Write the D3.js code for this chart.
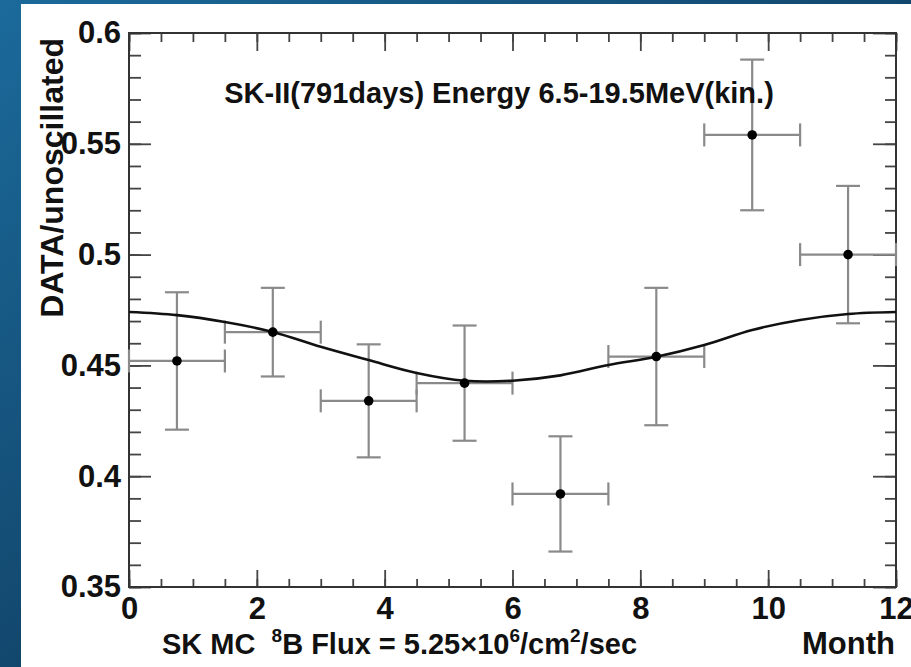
<!DOCTYPE html>
<html>
<head>
<meta charset="utf-8">
<script src="https://cdn.jsdelivr.net/npm/d3@7"></script>
<style>
  html, body { margin: 0; padding: 0; overflow: hidden; }
  svg { display: block; }
  text { font-family: "Liberation Sans", Arial, Helvetica, sans-serif; font-weight: bold; fill: #111; }
</style>
</head>
<body>
<div id="chart"></div>
<script>
// bins (month centres) and half widths
const months = [0.75, 2.25, 3.75, 5.25, 6.75, 8.25, 9.75, 11.25];
const monthHalfWidth = [0.75, 0.75, 0.75, 0.75, 0.75, 0.75, 0.75, 0.75];
// DATA / unoscillated ratio and its error
const ratio = [0.452, 0.465, 0.434, 0.442, 0.392, 0.454, 0.554, 0.500];
const ratioErr = [0.031, 0.020, 0.0255, 0.026, 0.026, 0.031, 0.034, 0.031];

// expected seasonal curve
const curveMonths = [0, 0.75, 1.5, 2.25, 3, 3.75, 4.5, 5.25, 6, 6.75, 7.5, 8.25, 9, 9.75, 10.5, 11.25, 12];
const curveRatio = [0.4741, 0.4727, 0.4696, 0.4651, 0.4584, 0.4524, 0.4466, 0.4431, 0.4431, 0.4455, 0.4502, 0.4539, 0.4592, 0.4660, 0.4705, 0.4732, 0.4741];

const xTicks = [0, 2, 4, 6, 8, 10, 12];
const yTicks = [0.35, 0.4, 0.45, 0.5, 0.55, 0.6];

const width = 911, height = 667;
const plot = { left: 129, right: 896, top: 33, bottom: 587 };

const svg = d3.select("#chart").append("svg")
  .attr("width", width)
  .attr("height", height);

// slide background
const grad = svg.append("defs").append("linearGradient")
  .attr("id", "bg")
  .attr("x1", 0).attr("y1", 0).attr("x2", 1).attr("y2", 1);
grad.append("stop").attr("offset", 0).attr("stop-color", "#1b6a9b");
grad.append("stop").attr("offset", 1).attr("stop-color", "#0a2540");

svg.append("rect").attr("width", width).attr("height", height).attr("fill", "url(#bg)");
svg.append("rect")
  .attr("x", 21).attr("y", 4)
  .attr("width", width - 21).attr("height", height - 4)
  .attr("fill", "#fff");

const x = d3.scaleLinear().domain([0, 12]).range([plot.left, plot.right]);
const y = d3.scaleLinear().domain([0.35, 0.6]).range([plot.bottom, plot.top]);

// axes: ticks point inwards, mirrored on top and right
function styleAxis(g) {
  g.select(".domain").remove();
  g.selectAll(".tick line").attr("stroke", "#444").attr("stroke-width", 1.8);
  g.selectAll("text").style("font-size", "31px").style("fill", "#111");
}

svg.append("g")
  .attr("transform", `translate(0,${plot.bottom})`)
  .call(d3.axisBottom(x).tickValues(x.ticks(24)).tickSize(-8).tickFormat(""))
  .call(styleAxis);
svg.append("g")
  .attr("transform", `translate(0,${plot.bottom})`)
  .call(d3.axisBottom(x).tickValues(xTicks).tickSize(-17).tickPadding(10).tickFormat(d3.format("d")))
  .call(styleAxis);
svg.append("g")
  .attr("transform", `translate(0,${plot.top})`)
  .call(d3.axisTop(x).tickValues(x.ticks(24)).tickSize(-9).tickFormat(""))
  .call(styleAxis);
svg.append("g")
  .attr("transform", `translate(0,${plot.top})`)
  .call(d3.axisTop(x).tickValues(xTicks).tickSize(-18).tickFormat(""))
  .call(styleAxis);

svg.append("g")
  .attr("transform", `translate(${plot.left},0)`)
  .call(d3.axisLeft(y).tickValues(y.ticks(25)).tickSize(-12).tickFormat(""))
  .call(styleAxis);
svg.append("g")
  .attr("transform", `translate(${plot.left},0)`)
  .call(d3.axisLeft(y).tickValues(yTicks).tickSize(-22).tickPadding(8).tickFormat(d3.format("~g")))
  .call(styleAxis);
svg.append("g")
  .attr("transform", `translate(${plot.right},0)`)
  .call(d3.axisRight(y).tickValues(y.ticks(25)).tickSize(-11).tickFormat(""))
  .call(styleAxis);
svg.append("g")
  .attr("transform", `translate(${plot.right},0)`)
  .call(d3.axisRight(y).tickValues(yTicks).tickSize(-23).tickFormat(""))
  .call(styleAxis);

// frame
svg.append("rect")
  .attr("x", plot.left).attr("y", plot.top)
  .attr("width", plot.right - plot.left).attr("height", plot.bottom - plot.top)
  .attr("fill", "none").attr("stroke", "#333").attr("stroke-width", 2);

// error bars
const pts = months.map((m, i) => ({ m, hw: monthHalfWidth[i], v: ratio[i], e: ratioErr[i] }));
const bars = svg.append("g").attr("stroke", "#8a8a8a").attr("stroke-width", 2.2).attr("fill", "none");
const capH = 11.5;

bars.selectAll(".xerr").data(pts).enter().append("line")
  .attr("x1", d => x(d.m - d.hw)).attr("x2", d => x(d.m + d.hw))
  .attr("y1", d => y(d.v)).attr("y2", d => y(d.v));
bars.selectAll(".xcapl").data(pts).enter().append("line")
  .attr("x1", d => x(d.m - d.hw)).attr("x2", d => x(d.m - d.hw))
  .attr("y1", d => y(d.v) - capH).attr("y2", d => y(d.v) + capH);
bars.selectAll(".xcapr").data(pts).enter().append("line")
  .attr("x1", d => x(d.m + d.hw)).attr("x2", d => x(d.m + d.hw))
  .attr("y1", d => y(d.v) - capH).attr("y2", d => y(d.v) + capH);
bars.selectAll(".yerr").data(pts).enter().append("line")
  .attr("x1", d => x(d.m)).attr("x2", d => x(d.m))
  .attr("y1", d => y(d.v + d.e)).attr("y2", d => y(d.v - d.e));
bars.selectAll(".ycapt").data(pts).enter().append("line")
  .attr("x1", d => x(d.m) - 12).attr("x2", d => x(d.m) + 12)
  .attr("y1", d => y(d.v + d.e)).attr("y2", d => y(d.v + d.e));
bars.selectAll(".ycapb").data(pts).enter().append("line")
  .attr("x1", d => x(d.m) - 12).attr("x2", d => x(d.m) + 12)
  .attr("y1", d => y(d.v - d.e)).attr("y2", d => y(d.v - d.e));

// expected curve
const line = d3.line()
  .x((d, i) => x(curveMonths[i]))
  .y(d => y(d))
  .curve(d3.curveCatmullRom);
svg.append("path")
  .datum(curveRatio)
  .attr("d", line)
  .attr("fill", "none")
  .attr("stroke", "#111")
  .attr("stroke-width", 2.6);

// points
svg.append("g").selectAll("circle").data(pts).enter().append("circle")
  .attr("cx", d => x(d.m)).attr("cy", d => y(d.v))
  .attr("r", 4.8).attr("fill", "#000");

// texts
svg.append("text")
  .attr("x", 499).attr("y", 103)
  .attr("text-anchor", "middle")
  .style("font-size", "29px")
  .text("SK-II(791days) Energy 6.5-19.5MeV(kin.)");

svg.append("text")
  .attr("transform", "translate(63,38) rotate(-90)")
  .attr("text-anchor", "end")
  .style("font-size", "32px")
  .text("DATA/unoscillated");

const xt = svg.append("text")
  .attr("x", 162).attr("y", 654)
  .style("font-size", "29px")
  .style("white-space", "pre");
xt.append("tspan").text("SK MC  ");
xt.append("tspan").attr("dy", -12).style("font-size", "19px").text("8");
xt.append("tspan").attr("dy", 12).text("B Flux = 5.25\u00d710");
xt.append("tspan").attr("dy", -12).style("font-size", "19px").text("6");
xt.append("tspan").attr("dy", 12).text("/cm");
xt.append("tspan").attr("dy", -12).style("font-size", "19px").text("2");
xt.append("tspan").attr("dy", 12).text("/sec");

svg.append("text")
  .attr("x", 895).attr("y", 654)
  .attr("text-anchor", "end")
  .style("font-size", "31px")
  .text("Month");
</script>
</body>
</html>
